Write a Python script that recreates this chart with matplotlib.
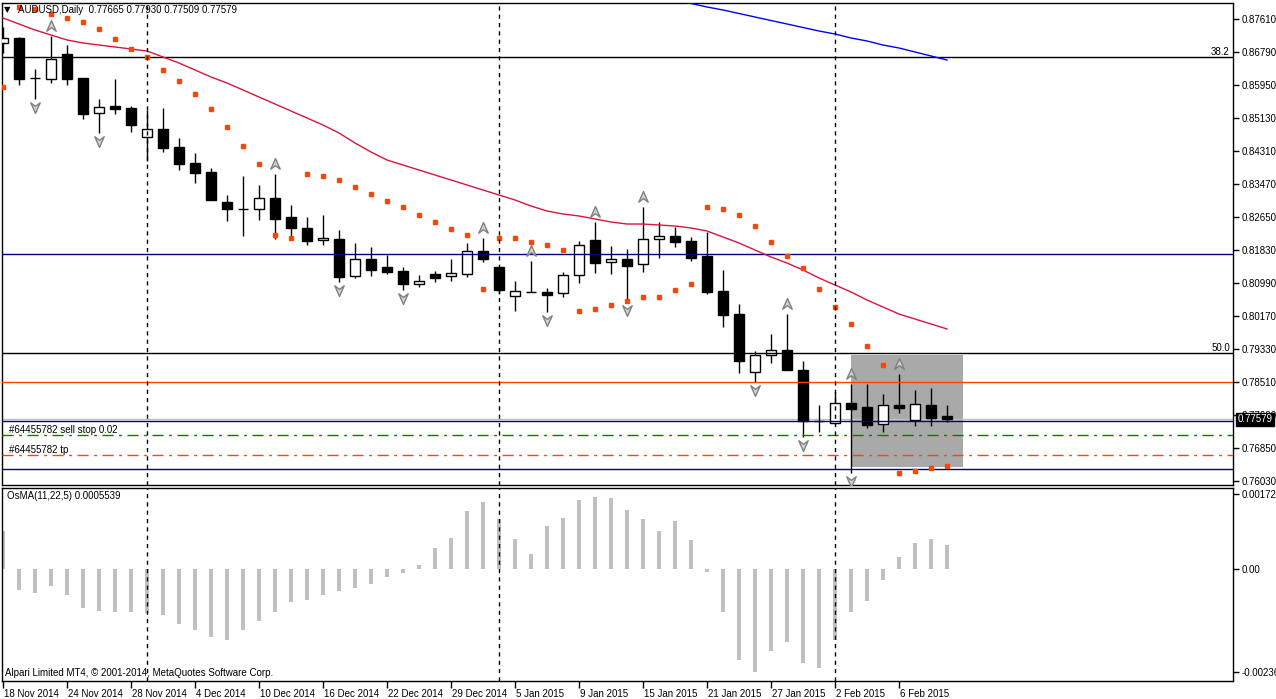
import matplotlib
matplotlib.use("Agg")
import matplotlib.pyplot as plt
from matplotlib.path import Path
from matplotlib.patches import Rectangle
import matplotlib.transforms as mtransforms
import numpy as np

plt.rcParams['font.family'] = ['Liberation Sans', 'DejaVu Sans']

# ---- data (AUDUSD daily, 18 Nov 2014 .. 11 Feb 2015) ----
dates = ['18 Nov 2014', '24 Nov 2014', '28 Nov 2014', '4 Dec 2014', '10 Dec 2014',
         '16 Dec 2014', '22 Dec 2014', '29 Dec 2014', '5 Jan 2015', '9 Jan 2015',
         '15 Jan 2015', '21 Jan 2015', '27 Jan 2015', '2 Feb 2015', '6 Feb 2015']

opens = [0.87009, 0.87134, 0.86131, 0.86106, 0.86733, 0.86131, 0.85254, 0.85430, 0.85379, 0.84653,
         0.84853, 0.84402, 0.84001, 0.83775, 0.83024, 0.82850, 0.82848, 0.83124, 0.82648, 0.82372,
         0.82071, 0.82096, 0.81169, 0.81595, 0.81394, 0.81294, 0.80968, 0.81219, 0.81169, 0.81219,
         0.81795, 0.81394, 0.80668, 0.80770, 0.80768, 0.80743, 0.81194, 0.82071, 0.81520, 0.81595,
         0.81470, 0.82096, 0.82171, 0.82046, 0.81670, 0.80793, 0.80216, 0.78763, 0.79189, 0.79314,
         0.78813, 0.77535, 0.77485, 0.77986, 0.77886, 0.77460, 0.77936, 0.77560, 0.77936, 0.77665]
highs = [0.87410, 0.87159, 0.86357, 0.87184, 0.86958, 0.86140, 0.85605, 0.86106, 0.85430, 0.85329,
         0.85379, 0.84628, 0.84252, 0.83876, 0.83199, 0.83675, 0.83450, 0.83725, 0.82948, 0.82648,
         0.82698, 0.82322, 0.81996, 0.81896, 0.81695, 0.81394, 0.81194, 0.81294, 0.81595, 0.81996,
         0.82121, 0.81400, 0.81043, 0.81545, 0.80868, 0.81269, 0.82046, 0.82522, 0.81921, 0.81846,
         0.82898, 0.82522, 0.82397, 0.82146, 0.82272, 0.81319, 0.80467, 0.79289, 0.79715, 0.80216,
         0.79038, 0.77936, 0.78262, 0.78462, 0.78462, 0.78211, 0.78713, 0.78312, 0.78362, 0.77930]
lows = [0.86758, 0.85956, 0.85605, 0.86006, 0.85956, 0.85104, 0.84753, 0.85229, 0.84778, 0.84051,
        0.84277, 0.83826, 0.83500, 0.83065, 0.82547, 0.82171, 0.82572, 0.82096, 0.82121, 0.81946,
        0.81946, 0.81018, 0.81119, 0.81169, 0.81219, 0.80818, 0.80893, 0.81018, 0.81043, 0.81144,
        0.81520, 0.80718, 0.80292, 0.80760, 0.80267, 0.80643, 0.80993, 0.81244, 0.81219, 0.80517,
        0.81269, 0.81620, 0.81896, 0.81545, 0.80718, 0.79891, 0.78738, 0.78512, 0.78988, 0.78805,
        0.77134, 0.77259, 0.77460, 0.76231, 0.77359, 0.77259, 0.77735, 0.77409, 0.77409, 0.77509]
closes = [0.87134, 0.86106, 0.86120, 0.86608, 0.86106, 0.85229, 0.85404, 0.85354, 0.84953, 0.84853,
          0.84377, 0.83976, 0.83750, 0.83074, 0.82848, 0.82845, 0.83124, 0.82597, 0.82372, 0.82046,
          0.82121, 0.81144, 0.81595, 0.81319, 0.81269, 0.80968, 0.81043, 0.81119, 0.81244, 0.81795,
          0.81595, 0.80818, 0.80793, 0.80765, 0.80693, 0.81194, 0.81946, 0.81495, 0.81595, 0.81419,
          0.82096, 0.82171, 0.82021, 0.81620, 0.80768, 0.80191, 0.79038, 0.79189, 0.79314, 0.78813,
          0.77535, 0.77540, 0.77986, 0.77835, 0.77434, 0.77936, 0.77860, 0.77961, 0.77610, 0.77579]

sar = [0.85906, 0.87911, 0.87861, 0.87735, 0.87635, 0.87535, 0.87359, 0.87109, 0.86858, 0.86658,
       0.86332, 0.86056, 0.85730, 0.85354, 0.84903, 0.84427, 0.83976, 0.82196, 0.82121, 0.83725,
       0.83675, 0.83575, 0.83399, 0.83224, 0.83049, 0.82898, 0.82698, 0.82522, 0.82347, 0.82196,
       0.80843, 0.82121, 0.82121, 0.82021, 0.81946, 0.81820, 0.80292, 0.80342, 0.80442, 0.80542,
       0.80643, 0.80643, 0.80818, 0.80968, 0.82898, 0.82848, 0.82698, 0.82422, 0.82021, 0.81670,
       0.81369, 0.80843, 0.80392, 0.79966, 0.79414, 0.78938, 0.76231, 0.76282, 0.76357, 0.76407]

ma_red = [0.87635, 0.87485, 0.87334, 0.87209, 0.87084, 0.87009, 0.86958, 0.86908, 0.86858, 0.86808,
          0.86658, 0.86507, 0.86332, 0.86156, 0.86006, 0.85831, 0.85655, 0.85480, 0.85304, 0.85129,
          0.84953, 0.84753, 0.84502, 0.84277, 0.84076, 0.83951, 0.83826, 0.83700, 0.83575, 0.83450,
          0.83324, 0.83199, 0.83074, 0.82923, 0.82798, 0.82723, 0.82673, 0.82598, 0.82522, 0.82472,
          0.82472, 0.82447, 0.82422, 0.82372, 0.82297, 0.82146, 0.81996, 0.81820, 0.81645, 0.81495,
          0.81319, 0.81119, 0.80943, 0.80768, 0.80567, 0.80392, 0.80216, 0.80091, 0.79966, 0.79841]

ma_blue_start = 42
ma_blue = [0.88086, 0.87999, 0.87911, 0.87836, 0.87748, 0.87660, 0.87572, 0.87485, 0.87397,
           0.87309, 0.87234, 0.87134, 0.87059, 0.86958, 0.86883, 0.86783, 0.86683, 0.86582]

fractal_up = [3, 17, 30, 33, 37, 40, 49, 53, 56]
fractal_down = [2, 6, 21, 25, 34, 39, 47, 50, 53]

osma = [0.000876, -0.000484, -0.000553, -0.000392, -0.000599, -0.000899, -0.000968, -0.000991, -0.000991, -0.001014,
        -0.001060, -0.001267, -0.001406, -0.001567, -0.001636, -0.001406, -0.001198, -0.000991, -0.000760, -0.000714,
        -0.000599, -0.000507, -0.000438, -0.000346, -0.000184, -0.000092, 0.000092, 0.000484, 0.000714, 0.001336,
        0.001544, 0.001152, 0.000691, 0.000346, 0.000991, 0.001175, 0.001590, 0.001659, 0.001636, 0.001359,
        0.001152, 0.000876, 0.001106, 0.000668, -0.000069, -0.000991, -0.002097, -0.002373, -0.001889, -0.001682,
        -0.002166, -0.002281, -0.001636, -0.000991, -0.000737, -0.000253, 0.000276, 0.000599, 0.000691, 0.000554]

month_starts = [9, 31, 52]

price_ticks = [0.87610, 0.86790, 0.85950, 0.85130, 0.84310, 0.83470, 0.82650, 0.81830,
               0.80990, 0.80170, 0.79330, 0.78510, 0.77690, 0.76850, 0.76030]
osma_ticks = [0.0017252, 0.0, -0.002368]
osma_tick_labels = ['0.0017252', '0.00', '-0.002368']

fib_382 = 0.86658
fib_500 = 0.79239
navy_levels = [0.81720, 0.77535, 0.76332]
orange_level = 0.78512
sell_stop = 0.77184
take_profit = 0.76683
bid = 0.77579
box_x = [53, 60]
box_y = [0.76382, 0.79189]

# ---- figure ----
W, H = 1276, 699
fig = plt.figure(figsize=(W / 100, H / 100), dpi=100)
left = 2.5 / W
width = (1233 - 2.5) / W
ax = fig.add_axes([left, (H - 485) / H, width, 482 / H])
ax2 = fig.add_axes([left, (H - 681) / H, width, 193 / H], sharex=ax)

n = len(opens)
idx = np.arange(n)
ax.set_xlim(-0.03, 76.875)
ax.set_ylim(0.75931, 0.88011)
ax2.set_ylim(-0.002581, 0.001866)

for a in (ax, ax2):
    for s in a.spines.values():
        s.set_linewidth(1.0)
        s.set_color('black')

# gray rectangle object
ax.add_patch(Rectangle((box_x[0], box_y[0]), box_x[1] - box_x[0], box_y[1] - box_y[0],
                       facecolor='#A9A9A9', edgecolor='none', zorder=1))

# candles
o = np.array(opens)
c = np.array(closes)
ax.vlines(idx, lows, highs, color='black', lw=1, zorder=3)
body_bottom = np.minimum(o, c)
body_h = np.abs(c - o)
body_col = ['white' if c[i] > o[i] else 'black' for i in range(n)]
ax.bar(idx, body_h, bottom=body_bottom, width=0.66, color=body_col,
       edgecolor='black', linewidth=1, zorder=4)

# horizontal lines
ax.axhline(fib_382, color='black', lw=1, zorder=5)
ax.axhline(fib_500, color='black', lw=1, zorder=5)
for lv in navy_levels:
    ax.axhline(lv, color='#000080', lw=1, zorder=5)
ax.axhline(orange_level, color='#FF4500', lw=1, zorder=5)
ax.axhline(bid, color='#C0C0C0', lw=1, zorder=2)
ax.axhline(sell_stop, color='#008000', lw=1, ls=(0, (8, 4, 2, 4)), zorder=5)
ax.axhline(take_profit, color='#FF4500', lw=1, ls=(0, (8, 4, 2, 4)), zorder=5)

# indicators
ax.plot(idx, ma_red, color='#DC143C', lw=1, zorder=6)
ax.plot(np.arange(ma_blue_start, ma_blue_start + len(ma_blue)), ma_blue, color='#0000FF', lw=1, zorder=6)
ax.plot(idx, sar, ls='none', marker='s', ms=2.6, color='#FF4500', mec='#FF4500', zorder=6)

# fractal arrows
up_path = Path([(0, 1), (0.8, -0.8), (0, -0.2), (-0.8, -0.8), (0, 1)],
               [Path.MOVETO, Path.LINETO, Path.LINETO, Path.LINETO, Path.CLOSEPOLY])
down_path = Path([(0, -1), (0.8, 0.8), (0, 0.2), (-0.8, 0.8), (0, -1)],
                 [Path.MOVETO, Path.LINETO, Path.LINETO, Path.LINETO, Path.CLOSEPOLY])
up_tr = mtransforms.offset_copy(ax.transData, fig=fig, x=0, y=7, units='points')
dn_tr = mtransforms.offset_copy(ax.transData, fig=fig, x=0, y=-5.5, units='points')
ax.plot(fractal_up, [highs[i] for i in fractal_up], ls='none', marker=up_path, ms=8.5,
        mfc='#D3D3D3', mec='#808080', mew=1, transform=up_tr, zorder=6)
ax.plot(fractal_down, [lows[i] for i in fractal_down], ls='none', marker=down_path, ms=8.5,
        mfc='#D3D3D3', mec='#808080', mew=1, transform=dn_tr, zorder=6)

# OsMA histogram
ax2.bar(idx, osma, width=0.19, color='#C0C0C0', zorder=2)

# period separators
for m in month_starts:
    ax.axvline(m, color='black', lw=1, ls=(0, (3, 3)), zorder=7)
    ax2.axvline(m, color='black', lw=1, ls=(0, (3, 3)), zorder=7)

# axes ticks
fs = 7
ax.yaxis.tick_right()
ax.set_yticks(price_ticks)
ax.set_yticklabels(['%.5f' % p for p in price_ticks])
ax.tick_params(axis='y', length=4, width=1, pad=2, labelsize=fs)
ax.tick_params(axis='x', bottom=False, labelbottom=False)

ax2.yaxis.tick_right()
ax2.set_yticks(osma_ticks)
ax2.set_yticklabels(osma_tick_labels)
ax2.tick_params(axis='y', length=4, width=1, pad=2, labelsize=fs)
ax2.set_xticks(np.arange(0, 4 * len(dates), 4))
ax2.set_xticklabels(dates)
ax2.tick_params(axis='x', length=5, width=1, pad=1, labelsize=fs)
shift = mtransforms.ScaledTranslation(1 / 100, 0, fig.dpi_scale_trans)
for lab in ax2.get_xticklabels():
    lab.set_horizontalalignment('left')
    lab.set_transform(lab.get_transform() + shift)

# texts
ax.text(0.9975, fib_382, '38.2', transform=ax.get_yaxis_transform(), ha='right', va='bottom',
        fontsize=fs, zorder=8)
ax.text(0.9975, fib_500, '50.0', transform=ax.get_yaxis_transform(), ha='right', va='bottom',
        fontsize=fs, zorder=8)
ax.text(0.005, sell_stop, '#64455782 sell stop 0.02', transform=ax.get_yaxis_transform(),
        ha='left', va='bottom', fontsize=fs, zorder=8)
ax.text(0.005, take_profit, '#64455782 tp', transform=ax.get_yaxis_transform(),
        ha='left', va='bottom', fontsize=fs, zorder=8)
ax.text(1.0035, bid, '%.5f' % bid, transform=ax.get_yaxis_transform(), ha='left', va='center',
        fontsize=fs, color='white', zorder=9, clip_on=False,
        bbox=dict(boxstyle='square,pad=0.15', facecolor='black', edgecolor='black'))

fig.text(7 / W, 1 - 10 / H, '\u25bc', fontsize=6, family='DejaVu Sans', va='center', ha='center')
fig.text(18 / W, 1 - 10 / H, 'AUDUSD,Daily  0.77665 0.77930 0.77509 0.77579', fontsize=fs, va='center')
fig.text(7 / W, 1 - 496 / H, 'OsMA(11,22,5) 0.0005539', fontsize=fs, va='center')
fig.text(5 / W, 1 - 673 / H, 'Alpari Limited MT4, \u00a9 2001-2014, MetaQuotes Software Corp.',
         fontsize=fs, va='center')

fig.savefig('out.png', dpi=100, facecolor='white')
